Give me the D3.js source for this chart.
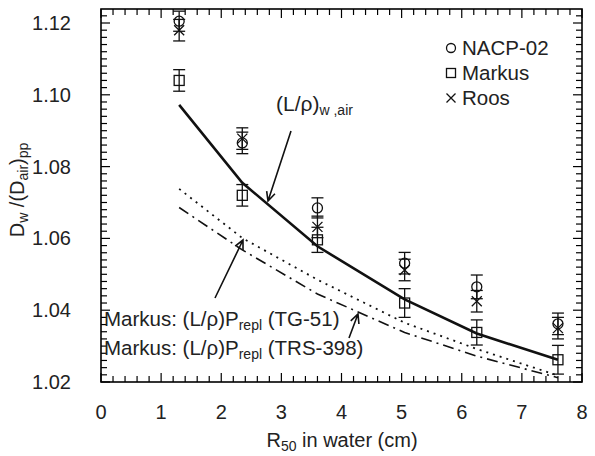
<!DOCTYPE html>
<html><head><meta charset="utf-8">
<script src="https://cdn.jsdelivr.net/npm/d3@7/dist/d3.min.js"></script>
<style>body{margin:0;background:#fff}svg{display:block;font-family:"Liberation Sans",Arial,sans-serif}</style>
</head><body><svg id="c" width="595" height="456"></svg>
<script>
const xs = [1.3, 2.35, 3.6, 5.05, 6.25, 7.6];
const nacp = [1.1205, 1.0866, 1.0685, 1.0531, 1.0465, 1.0362];
const nacpErr = [0.0028, 0.0030, 0.0028, 0.0030, 0.0033, 0.0030];
const markus = [1.1040, 1.0720, 1.0596, 1.0420, 1.0338, 1.0262];
const markusErr = [0.0030, 0.0030, 0.0035, 0.0040, 0.0035, 0.0040];
const roos = [1.1180, 1.0878, 1.0632, 1.0512, 1.0425, 1.0350];
const roosErr = [0.0030, 0.0030, 0.0030, 0.0030, 0.0030, 0.0030];
const lwAir = [1.0972, 1.0755, 1.0578, 1.0430, 1.0335, 1.0262];
const tg51 = [1.0738, 1.0601, 1.0485, 1.0365, 1.0292, 1.0218];
const trs398 = [1.0686, 1.0568, 1.0445, 1.0338, 1.0272, 1.0212];
const xTicks = [0,1,2,3,4,5,6,7,8];
const yTicks = [1.02,1.04,1.06,1.08,1.10,1.12];

const svg = d3.select("#c");
const L=101,R=582,T=9,B=382;
const x = d3.scaleLinear().domain([0,8]).range([L,R]);
const y = d3.scaleLinear().domain([1.02,1.1239]).range([B,T]);
const FS=20, SS=14;

svg.append("rect").attr("x",L).attr("y",T).attr("width",R-L).attr("height",B-T)
  .attr("fill","none").attr("stroke","#000").attr("stroke-width",1.6);

const g = svg.append("g").attr("stroke","#000").attr("stroke-width",1.2);
d3.range(0,41).map(i=>i*0.2).forEach((v,i)=>{
  const len = i%5===0?9:6;
  g.append("line").attr("x1",x(v)).attr("x2",x(v)).attr("y1",B).attr("y2",B-len);
  g.append("line").attr("x1",x(v)).attr("x2",x(v)).attr("y1",T).attr("y2",T+len);
});
d3.range(0,52).map(i=>1.02+i*0.002).filter(v=>v<=1.1239).forEach((v,i)=>{
  const len = i%10===0?9:6;
  g.append("line").attr("y1",y(v)).attr("y2",y(v)).attr("x1",L).attr("x2",L+len);
  g.append("line").attr("y1",y(v)).attr("y2",y(v)).attr("x1",R).attr("x2",R-len);
});

svg.append("g").selectAll("text").data(xTicks).join("text")
  .attr("x",d=>x(d)).attr("y",419).attr("text-anchor","middle")
  .attr("font-size",FS).attr("fill","#222").text(d=>d);
svg.append("g").selectAll("text").data(yTicks).join("text")
  .attr("x",71).attr("y",d=>y(d)+7).attr("text-anchor","end")
  .attr("font-size",FS).attr("fill","#222").text(d=>d.toFixed(2));

const xt = svg.append("text").attr("x",342).attr("y",447).attr("text-anchor","middle")
  .attr("font-size",FS).attr("fill","#222");
xt.append("tspan").text("R");
xt.append("tspan").attr("font-size",SS).attr("dy",4).text("50");
xt.append("tspan").attr("dy",-4).text(" in water (cm)");

const yt = svg.append("text").attr("transform","translate(24,190) rotate(-90)")
  .attr("text-anchor","middle").attr("font-size",FS).attr("fill","#222");
yt.append("tspan").text("D");
yt.append("tspan").attr("font-size",SS).attr("dy",4).text("w");
yt.append("tspan").attr("dy",-4).text(" /(D");
yt.append("tspan").attr("font-size",SS).attr("dy",4).text("air");
yt.append("tspan").attr("dy",-4).text(")");
yt.append("tspan").attr("font-size",SS).attr("dy",4).text("pp");

const line = d3.line().x((d,i)=>x(xs[i])).y(d=>y(d));
svg.append("path").attr("d",line(lwAir)).attr("fill","none").attr("stroke","#111").attr("stroke-width",2.6);
svg.append("path").attr("d",line(tg51)).attr("fill","none").attr("stroke","#111").attr("stroke-width",1.8)
  .attr("stroke-dasharray","2,5");
svg.append("path").attr("d",line(trs398)).attr("fill","none").attr("stroke","#111").attr("stroke-width",1.6)
  .attr("stroke-dasharray","11,5,2,5");

function errBars(vals, errs){
  const eg = svg.append("g").attr("stroke","#111").attr("stroke-width",1.3).attr("fill","none");
  vals.forEach((v,i)=>{
    const cx=x(xs[i]), y1=y(v+errs[i]), y2=y(v-errs[i]);
    eg.append("line").attr("x1",cx).attr("x2",cx).attr("y1",y1).attr("y2",y2);
    eg.append("line").attr("x1",cx-6).attr("x2",cx+6).attr("y1",y1).attr("y2",y1);
    eg.append("line").attr("x1",cx-6).attr("x2",cx+6).attr("y1",y2).attr("y2",y2);
  });
}
errBars(nacp,nacpErr); errBars(markus,markusErr); errBars(roos,roosErr);
const mg = svg.append("g").attr("stroke","#111").attr("stroke-width",1.3).attr("fill","none");
nacp.forEach((v,i)=>mg.append("circle").attr("cx",x(xs[i])).attr("cy",y(v)).attr("r",5));
markus.forEach((v,i)=>mg.append("rect").attr("x",x(xs[i])-5).attr("y",y(v)-5).attr("width",10).attr("height",10));
roos.forEach((v,i)=>{
  const cx=x(xs[i]), cy=y(v);
  mg.append("path").attr("d",`M${cx-5},${cy-5}L${cx+5},${cy+5}M${cx-5},${cy+5}L${cx+5},${cy-5}`);
});

const legItems = [["circle","NACP-02"],["square","Markus"],["cross","Roos"]];
legItems.forEach((it,i)=>{
  const ly = 48+i*25, lx=451;
  if(it[0]==="circle") mg.append("circle").attr("cx",lx).attr("cy",ly).attr("r",4.5);
  if(it[0]==="square") mg.append("rect").attr("x",lx-4.5).attr("y",ly-4.5).attr("width",9).attr("height",9);
  if(it[0]==="cross") mg.append("path").attr("d",`M${lx-4.5},${ly-4.5}L${lx+4.5},${ly+4.5}M${lx-4.5},${ly+4.5}L${lx+4.5},${ly-4.5}`);
  svg.append("text").attr("x",462).attr("y",ly+7).attr("font-size",FS+0.5).attr("fill","#222").text(it[1]);
});

function arrow(x1,y1,x2,y2){
  const a = Math.atan2(y2-y1,x2-x1), h=10, s=0.45;
  const p = `M${x1},${y1}L${x2},${y2}M${x2-h*Math.cos(a-s)},${y2-h*Math.sin(a-s)}L${x2},${y2}L${x2-h*Math.cos(a+s)},${y2-h*Math.sin(a+s)}`;
  svg.append("path").attr("d",p).attr("fill","none").attr("stroke","#111").attr("stroke-width",1.6);
}
arrow(291,131,268,201);
arrow(215,298,243,240);
arrow(349,338,358,314);

const t1 = svg.append("text").attr("x",276).attr("y",111).attr("font-size",FS+1).attr("fill","#222");
t1.append("tspan").text("(L/ρ)");
t1.append("tspan").attr("font-size",SS).attr("dy",4).text("w ,air");

function markusLabel(yy, tail){
  const t = svg.append("text").attr("x",104).attr("y",yy).attr("font-size",FS+0.5).attr("fill","#222");
  t.append("tspan").text("Markus: (L/ρ)P");
  t.append("tspan").attr("font-size",SS).attr("dy",4).text("repl");
  t.append("tspan").attr("dy",-4).text(" "+tail);
}
markusLabel(326,"(TG-51)");
markusLabel(355,"(TRS-398)");
</script></body></html>
